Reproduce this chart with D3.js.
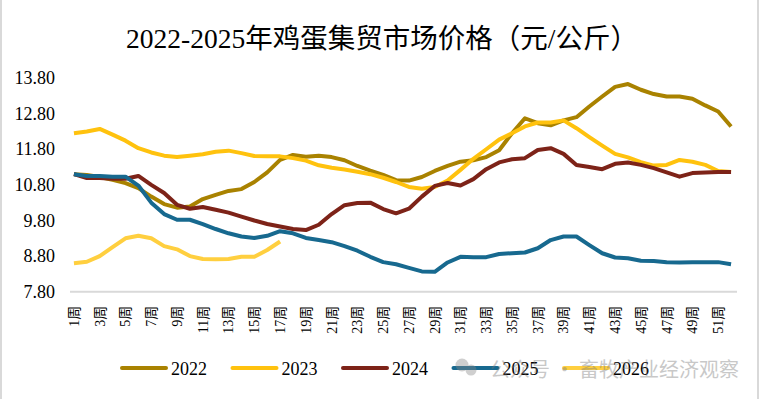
<!DOCTYPE html>
<meta charset="utf-8">
<style>
body { margin: 0; background: #fff; }
svg { display: block; }
</style>
<svg id="chart" width="760" height="399"></svg>
<script src="https://cdnjs.cloudflare.com/ajax/libs/d3/7.8.5/d3.min.js"></script>
<script>
// weekly egg market prices, yuan/kg
var weeks = d3.range(1, 53);
var yTicks = [7.8, 8.8, 9.8, 10.8, 11.8, 12.8, 13.8];

var s2022 = [11.10, 11.08, 11.02, 10.94, 10.85, 10.71, 10.47, 10.26, 10.16, 10.19, 10.40, 10.52, 10.63, 10.68,
  10.88, 11.15, 11.50, 11.64, 11.59, 11.62, 11.58, 11.49, 11.33, 11.20, 11.08, 10.93, 10.92, 11.02, 11.19,
  11.33, 11.45, 11.49, 11.58, 11.77, 12.25, 12.67, 12.53, 12.47, 12.61, 12.70, 13.00, 13.28, 13.55, 13.63,
  13.47, 13.35, 13.28, 13.28, 13.22, 13.03, 12.86, 12.44];
var s2023 = [12.25, 12.30, 12.37, 12.21, 12.04, 11.83, 11.71, 11.62, 11.58, 11.62, 11.66, 11.73, 11.76, 11.69,
  11.61, 11.60, 11.60, 11.55, 11.48, 11.35, 11.28, 11.23, 11.17, 11.10, 11.00, 10.88, 10.74, 10.69, 10.74,
  10.92, 11.22, 11.53, 11.80, 12.07, 12.25, 12.44, 12.55, 12.55, 12.61, 12.39, 12.14, 11.90, 11.67, 11.57,
  11.44, 11.34, 11.36, 11.50, 11.45, 11.36, 11.19, 11.16];
var s2024 = [11.10, 10.99, 10.99, 10.97, 10.97, 11.05, 10.80, 10.57, 10.24, 10.13, 10.18, 10.10, 10.02, 9.91,
  9.80, 9.70, 9.63, 9.56, 9.53, 9.68, 9.98, 10.23, 10.29, 10.30, 10.12, 10.00, 10.13, 10.47, 10.77,
  10.85, 10.78, 10.96, 11.24, 11.43, 11.52, 11.55, 11.78, 11.83, 11.67, 11.36, 11.30, 11.24, 11.39, 11.43,
  11.36, 11.27, 11.15, 11.03, 11.13, 11.15, 11.16, 11.16];
var s2025 = [11.10, 11.05, 11.05, 11.03, 11.03, 10.78, 10.30, 9.98, 9.82, 9.82, 9.70, 9.56, 9.44, 9.35,
  9.31, 9.37, 9.50, 9.44, 9.31, 9.25, 9.19, 9.08, 8.95, 8.78, 8.63, 8.57, 8.47, 8.37, 8.36,
  8.62, 8.78, 8.77, 8.77, 8.86, 8.88, 8.90, 9.02, 9.25, 9.35, 9.35, 9.11, 8.88, 8.76, 8.74,
  8.67, 8.66, 8.63, 8.62, 8.63, 8.63, 8.63, 8.57];
var s2026 = [8.60, 8.64, 8.80, 9.05, 9.30, 9.37, 9.30, 9.08, 8.99, 8.80, 8.72, 8.71, 8.72, 8.78, 8.78, 8.97, 9.21];

var seriesNames = ["2022", "2023", "2024", "2025", "2026"];
var seriesColors = ["#a98200", "#ffc20e", "#7d2318", "#17698f", "#ffcf3f"];
var seriesValues = [s2022, s2023, s2024, s2025, s2026];

var svg = d3.select("#chart");
var serif = "'Liberation Serif', 'Times New Roman', 'Noto Sans CJK SC', serif";

// frame edges
svg.append("line").attr("x1", 1).attr("x2", 1).attr("y1", 0).attr("y2", 399)
  .attr("stroke", "#d9d9d9").attr("stroke-width", 2);
svg.append("line").attr("x1", 758).attr("x2", 758).attr("y1", 0).attr("y2", 399)
  .attr("stroke", "#d9d9d9").attr("stroke-width", 2);

svg.append("text")
  .attr("x", 382).attr("y", 48)
  .attr("text-anchor", "middle")
  .attr("font-family", serif)
  .attr("font-size", 27.5)
  .attr("fill", "#000")
  .text("2022-2025年鸡蛋集贸市场价格（元/公斤）");

var x = d3.scaleBand().domain(weeks).range([67.5, 737.5]).paddingInner(0).paddingOuter(0);
var y = d3.scaleLinear().domain([7.8, 13.8]).range([291.7, 78]);
var xc = function(w) { return x(w) + x.bandwidth() / 2; };

// y axis labels
svg.append("g")
  .attr("transform", "translate(55,0)")
  .call(d3.axisLeft(y).tickValues(yTicks).tickFormat(d3.format(".2f")).tickSize(0).tickPadding(0))
  .call(function(g) { g.select(".domain").remove(); })
  .selectAll("text")
  .attr("font-family", serif)
  .attr("font-size", 18)
  .attr("fill", "#000");

// bottom axis
var xAxis = svg.append("g")
  .attr("transform", "translate(0," + y(7.8) + ")")
  .call(d3.axisBottom(x).tickValues(weeks.filter(function(w) { return w % 2 == 1; }))
    .tickFormat(function(w) { return w + "周"; }).tickSize(0));
xAxis.select(".domain").attr("stroke", "#d9d9d9").attr("stroke-width", 2)
  .attr("d", "M70,0H737");
xAxis.selectAll("text")
  .attr("font-family", serif)
  .attr("font-size", 14)
  .attr("fill", "#000")
  .attr("text-anchor", "end")
  .attr("transform", "rotate(-90)")
  .attr("x", -14)
  .attr("y", 0)
  .attr("dy", "0.35em");

var line = d3.line()
  .x(function(d, i) { return xc(weeks[i]); })
  .y(function(d) { return y(d); });

// draw 2026 first so older years sit on top like the source
var order = [4, 0, 1, 2, 3];
order.forEach(function(k) {
  svg.append("path")
    .datum(seriesValues[k])
    .attr("fill", "none")
    .attr("stroke", seriesColors[k])
    .attr("stroke-width", 4)
    .attr("stroke-linejoin", "round")
    .attr("d", line);
});

// legend
var legend = svg.append("g")
  .selectAll("g")
  .data(seriesNames)
  .enter().append("g")
  .attr("transform", function(d, i) { return "translate(" + (122 + i * 110.5) + ",368)"; });

legend.append("line")
  .attr("x1", 0).attr("x2", 44)
  .attr("stroke", function(d, i) { return seriesColors[i]; })
  .attr("stroke-width", 4)
  .attr("stroke-linecap", "round");

legend.append("text")
  .attr("x", 49).attr("y", 6.5)
  .attr("font-family", serif)
  .attr("font-size", 18)
  .attr("fill", "#000")
  .text(function(d) { return d; });

// watermark (semi-transparent, sits over the legend like in the source)
var wm = svg.append("g").attr("opacity", 0.4);
wm.append("circle").attr("cx", 462).attr("cy", 365).attr("r", 6.5).attr("fill", "#888");
wm.append("circle").attr("cx", 471).attr("cy", 370).attr("r", 5.5).attr("fill", "#888");
wm.append("text")
  .attr("x", 490).attr("y", 377)
  .attr("font-family", "'Noto Sans CJK SC', sans-serif")
  .attr("font-size", 20)
  .attr("fill", "#777")
  .text("公众号 · 畜牧产业经济观察");
</script>
